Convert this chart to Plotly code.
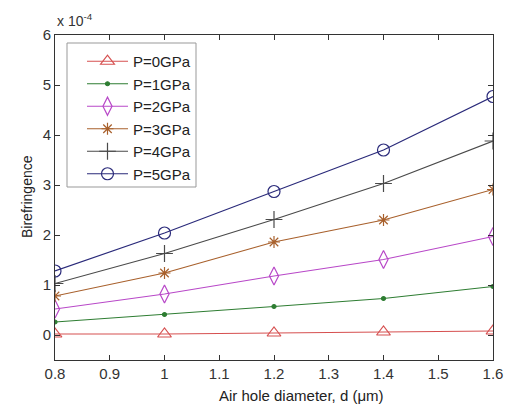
import plotly.graph_objects as go

d = [0.8, 1.0, 1.2, 1.4, 1.6]
p0 = [0.02, 0.02, 0.04, 0.06, 0.08]
p1 = [0.26, 0.41, 0.57, 0.73, 0.97]
p2 = [0.52, 0.82, 1.18, 1.51, 1.97]
p3 = [0.78, 1.24, 1.86, 2.30, 2.91]
p4 = [1.03, 1.63, 2.31, 3.03, 3.88]
p5 = [1.28, 2.04, 2.87, 3.70, 4.77]
names = ["P=0GPa", "P=1GPa", "P=2GPa", "P=3GPa", "P=4GPa", "P=5GPa"]
series = [p0, p1, p2, p3, p4, p5]
colors = ["#d65050", "#2e7d32", "#b848c8", "#a8602c", "#4a4a4a", "#2a2a7a"]
symbols = ["triangle-up-open", "circle", "diamond-tall-open", "asterisk-open", "cross-thin-open", "circle-open"]
sizes = [12, 4, 13, 10, 12, 12]
xticks = [0.8, 0.9, 1.0, 1.1, 1.2, 1.3, 1.4, 1.5, 1.6]
xticklabels = ["0.8", "0.9", "1", "1.1", "1.2", "1.3", "1.4", "1.5", "1.6"]
yticks = [0, 1, 2, 3, 4, 5, 6]

W, H = 510, 409
ML, MR, MT, MB = 55, 17, 35, 49
PW, PH = W - ML - MR, H - MT - MB


def px_x(px):
    return (px - ML) / PW


def px_y(py):
    return 1 - (py - MT) / PH


font = "Liberation Sans, Arial, sans-serif"
fig = go.Figure()
for n, s, c, sym, sz in zip(names, series, colors, symbols, sizes):
    fig.add_trace(go.Scatter(
        x=d, y=s, name=n, mode="lines+markers",
        line=dict(color=c, width=1.2),
        marker=dict(symbol=sym, size=sz, color=c, line=dict(color=c, width=1.2)),
    ))

axis_common = dict(
    showgrid=False, zeroline=False, showline=True, linecolor="#333", linewidth=1,
    ticks="inside", ticklen=5, tickcolor="#333", mirror="ticks", automargin=False,
    tickfont=dict(family=font, size=15, color="#333"),
)
fig.update_xaxes(range=[0.8, 1.6], tickvals=xticks, ticktext=xticklabels, **axis_common)
fig.update_yaxes(range=[-0.5, 6], tickvals=yticks, **axis_common)

fig.update_layout(
    width=W, height=H, autosize=False,
    margin=dict(l=ML, r=MR, t=MT, b=MB, autoexpand=False),
    paper_bgcolor="white", plot_bgcolor="white",
    font=dict(family=font, size=13, color="#222"),
    showlegend=True,
    legend=dict(x=px_x(82), y=px_y(45), xanchor="left", yanchor="top",
                borderwidth=0, bgcolor="rgba(0,0,0,0)",
                font=dict(family=font, size=15, color="#222"),
                tracegroupgap=0, itemwidth=41),
    shapes=[dict(type="rect", xref="paper", yref="paper",
                 x0=px_x(67), x1=px_x(196), y0=px_y(187), y1=px_y(43),
                 line=dict(color="#999", width=1), fillcolor="white", layer="below")],
    annotations=[
        dict(text="x 10<sup>-4</sup>", x=0, y=1.0, xref="paper", yref="paper",
             xanchor="left", yanchor="bottom", yshift=4, showarrow=False,
             font=dict(family=font, size=14, color="#333")),
        dict(text="Air hole diameter, d (\u03bcm)", x=px_x(301), y=px_y(395),
             xref="paper", yref="paper", xanchor="center", yanchor="middle",
             showarrow=False, font=dict(family=font, size=15, color="#222")),
        dict(text="Birefringence", x=px_x(27), y=px_y(197), xref="paper", yref="paper",
             textangle=-90, showarrow=False, xanchor="center", yanchor="middle",
             font=dict(family=font, size=14, color="#222")),
    ],
)

fig.write_html("out.html", post_script="document.body.style.margin='0';",
               config={"displayModeBar": False})
